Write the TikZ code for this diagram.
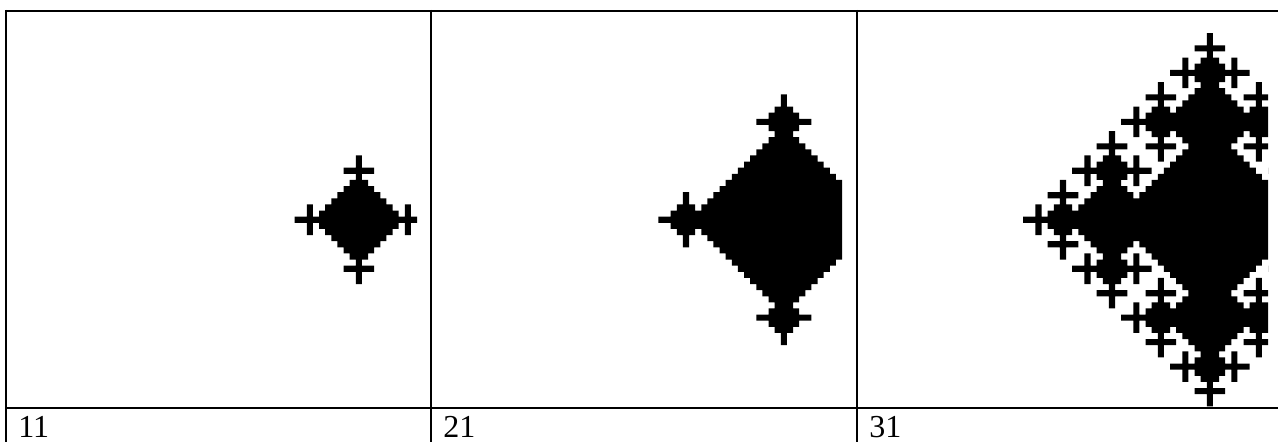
\documentclass[tikz,border=0pt]{standalone}
\usepackage{fontspec}
\setmainfont{Liberation Serif}
\usetikzlibrary{positioning}
\tikzset{
  % tabell
  tline/.style={draw=black,line width=1pt},
  lbl/.style={font=\fontsize{16}{18}\selectfont,inner sep=0pt,anchor=base west},
  % celler
  panel/.style={x=3.06pt,y=-3.06pt},
}
% automaten (kod 942): en kvadrant, speglad
\newcount\cag \newcount\cax \newcount\cay \newcount\can \newcount\caG
\def\caabs#1{\ifnum\numexpr#1\relax<0 \number\numexpr0-(#1)\relax\else\number\numexpr#1\relax\fi}
\def\cabirth#1#2{\ifcsname ca@\caabs{#1}@\caabs{#2}\endcsname
  \csname ca@\caabs{#1}@\caabs{#2}\endcsname\else 999 \fi}
\def\canb#1#2{\ifnum\cabirth{#1}{#2}<\cag \advance\can by 1 \fi}
\def\caset{\expandafter\xdef\csname ca@\the\cax @\the\cay\endcsname{\the\cag\space}}
\def\cacell{%
  \ifcsname ca@\the\cax @\the\cay\endcsname\else
    \can=0
    \canb{\cax+1}{\cay}\canb{\cax-1}{\cay}\canb{\cax}{\cay+1}\canb{\cax}{\cay-1}%
    \ifnum\can=1 \caset\fi
    \ifnum\can=4 \caset\fi
  \fi}
\def\cacoly{\ifnum\numexpr\cax+\cay\relax<\cag \cacell\advance\cay by 1 \expandafter\cacoly\fi}
\def\carowx{\ifnum\cax<\cag \cay=0 \cacoly\advance\cax by 1 \expandafter\carowx\fi}
\def\carun{\cag=1 \cax=0 \cay=0 \caset
  \cag=2
  \loop \cax=0 \carowx \advance\cag by 1 \ifnum\cag<32 \repeat}
\carun
% utfyllnad
\def\carect#1#2{\pgfpathrectangle{\pgfpointxy{#1}{#2}}{\pgfpointxy{1}{1}}}
\def\cafillcell{%
  \ifcsname ca@\the\cax @\the\cay\endcsname
    \ifnum\csname ca@\the\cax @\the\cay\endcsname>\caG\else
      \carect{\the\cax}{\the\cay}\carect{-\the\cax}{\the\cay}%
      \carect{\the\cax}{-\the\cay}\carect{-\the\cax}{-\the\cay}%
    \fi
  \fi}
\def\cafilly{\ifnum\cay<31 \cafillcell\advance\cay by 1 \expandafter\cafilly\fi}
\def\cafillx{\ifnum\cax<31 \cay=0 \cafilly\advance\cax by 1 \expandafter\cafillx\fi}
\newcommand\cafill[1]{\caG=#1 \cax=0 \cafillx\pgfusepath{fill}}

\begin{document}
\begin{tikzpicture}[x=0.5pt,y=-0.5pt]
  \useasboundingbox (0,0) rectangle (1278,442);
  % bilderna
  \foreach \gen/\ox in {11/0,21/425,31/851}{
    \begin{scope}
      \clip (7+\ox,12) rectangle (417+\ox,407);
      \begin{scope}[shift={(355.8+\ox,216.7)},panel]
        \cafill{\gen}
      \end{scope}
    \end{scope}
  }
  % tabellen
  \draw[tline] (5,11) -- (1278,11);
  \draw[tline] (5,408.3) -- (1278,408.3);
  \foreach \xx in {6,431,856.5}
    \draw[tline] (\xx,10) -- (\xx,442);
  \node[lbl] (n11) at (18,437.5) {11};
  \node[lbl] (n21) at (443,437.5) {21};
  \node[lbl] (n31) at (869,437.5) {31};
\end{tikzpicture}
\end{document}
